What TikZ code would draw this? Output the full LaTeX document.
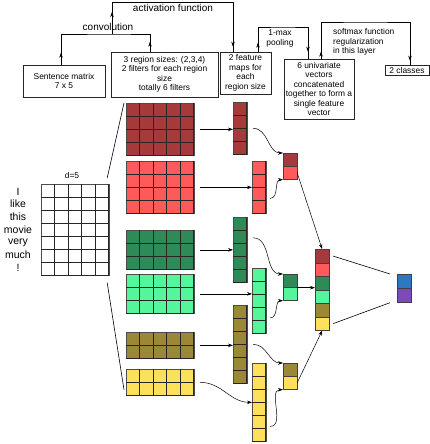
\documentclass[tikz,border=0pt]{standalone}
\usepackage{fontspec}
\setmainfont{Liberation Sans}
\usetikzlibrary{arrows.meta}

\definecolor{fdarkred}{HTML}{A63A3A}
\definecolor{fred}{HTML}{FF5A5A}
\definecolor{fdarkgreen}{HTML}{2E8B57}
\definecolor{flightgreen}{HTML}{55F59B}
\definecolor{folive}{HTML}{9B8836}
\definecolor{fyellow}{HTML}{FFE05A}
\definecolor{outblue}{HTML}{2E78C2}
\definecolor{outpurple}{HTML}{7D4AB8}

% block of cells: name, top left corner, columns, rows, colour
\newcommand{\cellgrid}[5]{%
  \node[gridbox, fill=#5, minimum width=#3*13.5, minimum height=#4*13] (#1) at #2 {};
  \foreach \gi in {1,...,#3} {\draw[gridline] ([xshift=\gi*13.5]#1.north west) -- ([xshift=\gi*13.5]#1.south west);}
  \foreach \gj in {1,...,#4} {\draw[gridline] ([yshift=-\gj*13]#1.north west) -- ([yshift=-\gj*13]#1.north east);}
}

\begin{document}
\begin{tikzpicture}[x=1pt,y=-1pt]
\tikzset{gridbox/.style = {draw=black!70, line width=0.7pt, inner sep=0pt, anchor=north west}}
\tikzset{gridline/.style = {black!85, line width=0.6pt}}
\tikzset{cell/.style = {draw=black!75, line width=0.7pt, minimum width=13.5, minimum height=13, inner sep=0pt, anchor=north west}}
\tikzset{textbox/.style = {draw=black!85, line width=0.6pt, align=center, inner sep=1pt, font=\fontsize{8.4}{9.5}\selectfont}}
\tikzset{small/.style = {inner sep=0pt, font=\fontsize{8.4}{9.5}\selectfont}}
\tikzset{big/.style = {inner sep=0pt, font=\fontsize{10}{12}\selectfont}}
\tikzset{edge/.style = {-{Stealth[length=5pt,width=3.5pt]}, line width=0.5pt}}
\tikzset{link/.style = {line width=0.6pt}}
\useasboundingbox (0,0) rectangle (430,444);
% boxes
\node[textbox, minimum width=82, minimum height=32] (sentbox) at (64,81) {Sentence matrix\\7 x 5};
\node[textbox, minimum width=107, minimum height=45] (filtbox) at (164.5,74.5) {3 region sizes: (2,3,4)\\2 filters for each region\\size\\totally 6 filters};
\node[textbox, minimum width=51, minimum height=42] (fmapbox) at (245.5,73) {2 feature\\maps for\\each\\region size};
\node[textbox, minimum width=70, minimum height=60] (univbox) at (319,89) {6 univariate\\vectors\\concatenated\\together to form a\\single feature\\vector};
\node[textbox, minimum width=44, minimum height=10, inner sep=0pt] (classbox) at (407,70.5) {2 classes};
% labels
\node[big] (convlabel) at (108,27) {convolution};
\node[big] (actlabel) at (173,8) {activation function};
\node[small, align=center] (poollabel) at (280,38.5) {1-max\\pooling};
\node[small, align=left, anchor=west] (softlabel) at (333,42) {softmax function\\regularization\\in this layer};
\node[small] (dlabel) at (72,175) {d=5};
% top connectors
\coordinate (conv) at (112,34);
\coordinate (act) at (112,2);
\coordinate (pool) at (283,27);
\coordinate (soft) at (365,22);
\draw[link] ([xshift=-3]sentbox.north) |- (conv) -| ([xshift=-14.5]filtbox.north);
\draw[edge] ([xshift=-3]sentbox.north) -- ++(0,-12);
\draw[edge] ([xshift=-14.5]filtbox.north) -- ++(0,-10);
\draw[link] (conv) -- (act) -| ([xshift=-12.5]fmapbox.north);
\draw[edge] (conv) -- ++(0,-22);
\draw[edge] ([shift={(-12.5,-20)}]fmapbox.north) -- ++(0,15);
\draw[link] ([xshift=12.5]fmapbox.north) |- (pool) -| ([xshift=-11]univbox.north);
\draw[edge] ([xshift=12.5]fmapbox.north) -- ++(0,-9);
\draw[edge] ([shift={(-11,-20)}]univbox.north) -- ++(0,13);
\draw[link] ([xshift=2]univbox.north) |- (soft) -| ([xshift=3]classbox.north);
\draw[edge] ([xshift=2]univbox.north) -- ++(0,-7);
\draw[edge] ([shift={(3,-20)}]classbox.north) -- ++(0,15.5);
% sentence
\foreach \w [count=\k] in {I,like,this,movie,very,much,!}
  \node[inner sep=0pt, font=\fontsize{10.5}{12}\selectfont] (w\k) at (18,{191.5+12.7*(\k-1)}) {\w};
\cellgrid{sentmat}{(41,184)}{5}{7}{white}
% filters
\cellgrid{f1}{(126,103)}{5}{4}{fdarkred}
\cellgrid{f2}{(126,161)}{5}{4}{fred}
\cellgrid{f3}{(126,230)}{5}{3}{fdarkgreen}
\cellgrid{f4}{(126,274)}{5}{3}{flightgreen}
\cellgrid{f5}{(126,332)}{5}{2}{folive}
\cellgrid{f6}{(126,369)}{5}{2}{fyellow}
\draw[link] ([shift={(-2,-6)}]sentmat.north east) -- ([xshift=-2]f1.north west);
\draw[link] ([shift={(-2,7)}]sentmat.south east) -- ([shift={(-2,-6)}]f6.south west);
% feature maps
\cellgrid{m1}{(233,102)}{1}{4}{fdarkred}
\cellgrid{m2}{(252,161)}{1}{4}{fred}
\cellgrid{m3}{(233,217)}{1}{5}{fdarkgreen}
\cellgrid{m4}{(252,268)}{1}{5}{flightgreen}
\cellgrid{m5}{(233,305)}{1}{6}{folive}
\cellgrid{m6}{(252,363)}{1}{6}{fyellow}
\draw[edge] ([xshift=6]f1.east) -- (f1.east -| m1.west);
\draw[edge] ([xshift=6]f2.east) -- (f2.east -| m2.west);
\draw[edge] ([xshift=6]f3.east) -- (f3.east -| m3.west);
\draw[edge] ([xshift=6]f4.east) -- (f4.east -| m4.west);
\draw[edge] ([xshift=6]f5.east) -- (f5.east -| m5.west);
\draw[edge] ([xshift=6]f6.east) to[out=0, in=180] (m6.west);
% pooled pairs
\node[cell, fill=fdarkred] (p1a) at (283,153) {};
\node[cell, fill=fred] (p1b) at (283,166) {};
\node[cell, fill=fdarkgreen] (p2a) at (283,274) {};
\node[cell, fill=flightgreen] (p2b) at (283,287) {};
\node[cell, fill=folive] (p3a) at (283,363) {};
\node[cell, fill=fyellow] (p3b) at (283,376) {};
\draw[edge] ([xshift=6]m1.east) to[out=0, in=180] (p1a.north west);
\draw[edge] ([shift={(4,11)}]m2.east) to[out=0, in=180] (p1b.south west);
\draw[edge] ([shift={(6,-12)}]m3.east) to[out=0, in=180] (p2a.north west);
\draw[edge] ([shift={(4,17)}]m4.east) to[out=0, in=180] (p2b.south west);
\draw[edge] ([xshift=6]m5.east) to[out=0, in=180] (p3a.north west);
\draw[edge] ([shift={(4,24)}]m6.east) to[out=0, in=180] (p3b.south west);
% concatenated vector
\foreach \col [count=\k] in {fdarkred,fred,fdarkgreen,flightgreen,folive,fyellow}
  \node[cell, minimum height=13.5, fill=\col] (cat\k) at (315,{249+13.5*(\k-1)}) {};
\draw[edge] (p1b.east) -- (cat1.north);
\draw[edge] (p2a.south east) -- (p2a.south east -| cat1.west);
\draw[edge] (p3b.east) -- (cat6.south);
% output
\node[cell, minimum height=14, fill=outblue] (out1) at (397,274) {};
\node[cell, minimum height=14, fill=outpurple] (out2) at (397,288) {};
\draw[link] ([xshift=4]cat1.east) -- ([xshift=-7]out1.north west);
\draw[link] ([xshift=4]cat6.east) -- ([xshift=-7]out2.south west);
\end{tikzpicture}
\end{document}
